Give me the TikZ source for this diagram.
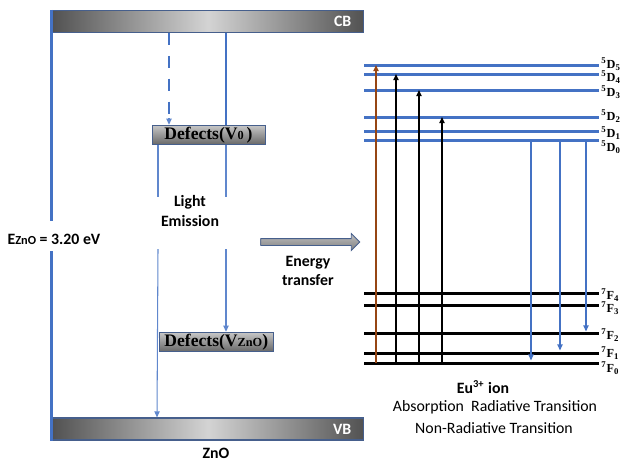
\documentclass[tikz,border=0pt]{standalone}
\usepackage{fontspec}
\setmainfont{Carlito}
\newfontfamily\tnr{Liberation Serif}
\usetikzlibrary{arrows.meta,positioning,shapes.arrows}
\definecolor{zblue}{RGB}{68,114,196}
\definecolor{edgeblue}{RGB}{70,95,140}
\definecolor{abrown}{RGB}{150,70,20}

\begin{document}
\begin{tikzpicture}[x=0.02cm, y=-0.02cm,
  font=\small,
  band/.style={draw=edgeblue, line width=0.6pt, left color=black!68, right color=black!68, middle color=black!17, minimum width=6.24cm, minimum height=0.44cm, inner sep=0pt},
  bandtxt/.style={text=white, font=\small\bfseries, anchor=east},
  defect/.style={draw=edgeblue, line width=0.5pt, top color=black!22, bottom color=black!60, font=\tnr\bfseries, inner sep=0pt, minimum height=0.39cm},
  dlev/.style={zblue, line width=1.7pt},
  flev/.style={black, line width=1.7pt},
  term/.style={font=\tnr\bfseries\fontsize{7}{8}\selectfont, anchor=west, inner sep=0pt},
  emit/.style={zblue!85, line width=0.6pt},
  absorb/.style={line width=0.8pt, ->},
  radiat/.style={zblue, line width=0.8pt, ->},
  lab/.style={font=\small\bfseries, align=center},
  >={Triangle[length=3.5pt, width=3pt]}]
\useasboundingbox (0,0) rectangle (623,461);

% ZnO side
\node[band] (CB) at (208,21.5) {};
\node[band] (VB) at (208,429) {};
\node[bandtxt] (cbtxt) at ([xshift=-0.14cm]CB.east) {CB};
\node[bandtxt] (vbtxt) at ([xshift=-0.14cm]VB.east) {VB};
\node[lab] (zno) at (216,453) {ZnO};
\node[lab] (gap) at (54,239) {E{\scriptsize ZnO} = 3.20 eV};
\node[defect, minimum width=2.26cm] (dv0) at (208.5,135) {Defects(V{\scriptsize 0}\,)};
\node[defect, minimum width=2.28cm] (dvz) at (216.3,342) {Defects(V{\scriptsize ZnO})};
\node[lab] (light) at (190,211) {Light\\Emission};

\coordinate (eT) at (0,221);
\coordinate (eB) at (0,251);
\coordinate (lT) at (0,197);
\coordinate (lB) at (0,249);
\coordinate (xd) at (169,0);
\coordinate (xr) at (226,0);
\coordinate (xl) at (158,0);

\draw[zblue, line width=1.2pt] (CB.north west) -- (CB.west |- eT);
\draw[zblue, line width=1.2pt] (VB.west |- eB) -- (VB.south west);
\draw[zblue, line width=1.3pt, dash pattern=on 7pt off 6pt] (xd |- CB.south) -- (xd |- 0,120);
\draw[emit, ->] (xd |- 0,118) -- (xd |- dv0.north);
\draw[zblue, line width=1pt] (xr |- CB.south) -- (xr |- dv0.north);
\draw[emit] (xl |- dv0.south) -- (xl |- lT);
\draw[emit, ->] (xl |- lB) -- ([xshift=-0.02cm]xl |- VB.north);
\draw[emit] (xr |- dv0.south) -- (xr |- lT);
\draw[emit, ->] (xr |- lB) -- (xr |- dvz.north);

% energy transfer
\node[single arrow, draw=edgeblue, line width=0.5pt, top color=black!25, bottom color=black!50,
  minimum height=1.98cm, minimum width=0.32cm, inner xsep=0pt, inner ysep=0.06cm,
  single arrow head extend=0.1cm] (et) at (308.5,242) {};
\node[lab] (ettxt) at (308,271) {Energy\\transfer};

% Eu3+ levels
\foreach \n/\y in {5/65,4/74,3/90,2/117,1/131,0/140}{
  \coordinate (D\n) at (364,\y);
  \draw[dlev] (D\n) -- ++(235,0);
}
\foreach \n/\y in {4/293,3/305,2/333,1/353,0/363}{
  \coordinate (F\n) at (364,\y);
  \draw[flev] (F\n) -- ++(235,0);
}
\foreach \n/\y in {5/64,4/77,3/92,2/116,1/133,0/147}
  \node[term] (tD\n) at (601,\y) {\textsuperscript{5}D\textsubscript{\n}};
\foreach \n/\y in {4/295,3/308,2/335,1/353,0/368}
  \node[term] (tF\n) at (601,\y) {\textsuperscript{7}F\textsubscript{\n}};

% absorption
\coordinate (a1) at (376,0);
\coordinate (a2) at (396,0);
\coordinate (a3) at (419,0);
\coordinate (a4) at (442,0);
\draw[absorb, abrown] (a1 |- F0) -- (a1 |- D5);
\draw[absorb] (a2 |- F0) -- (a2 |- D4);
\draw[absorb] (a3 |- F0) -- (a3 |- D3);
\draw[absorb] (a4 |- F0) -- (a4 |- D2);

% radiative
\coordinate (r1) at (531,0);
\coordinate (r2) at (560,0);
\coordinate (r3) at (586,0);
\draw[radiat] (r1 |- D0) -- ([yshift=0.05cm]r1 |- F0);
\draw[radiat] (r2 |- D0) -- ([yshift=0.05cm]r2 |- F1);
\draw[radiat] (r3 |- D0) -- ([yshift=0.03cm]r3 |- F2);

\node[lab] (eu) at (483,387) {Eu\textsuperscript{3+} ion};
\node (key1) at (495,407) {Absorption\ \ Radiative Transition};
\node (key2) at (494,428) {Non-Radiative Transition};
\end{tikzpicture}
\end{document}
